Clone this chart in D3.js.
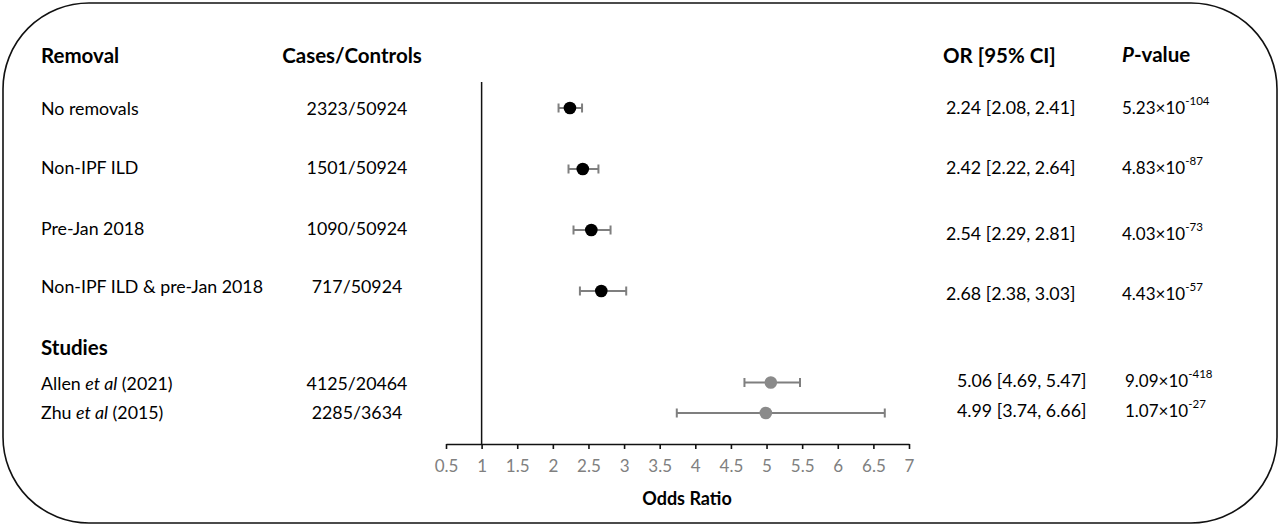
<!DOCTYPE html>
<html>
<head>
<meta charset="utf-8">
<script src="https://cdn.jsdelivr.net/npm/d3@7"></script>
<style>
  body { margin: 0; background: #fff; }
  svg { display: block; font-family: Lato, "Open Sans", sans-serif; }
</style>
</head>
<body>
<script>
// forest plot: odds ratios by removal criterion + previous studies

var labels = ['No removals', 'Non-IPF ILD', 'Pre-Jan 2018', 'Non-IPF ILD & pre-Jan 2018',
              'Allen et al (2021)', 'Zhu et al (2015)'];
var cases = ['2323/50924', '1501/50924', '1090/50924', '717/50924', '4125/20464', '2285/3634'];
var oddsRatio = [2.24, 2.42, 2.54, 2.68, 5.06, 4.99];
var ciLow = [2.08, 2.22, 2.29, 2.38, 4.69, 3.74];
var ciHigh = [2.41, 2.64, 2.81, 3.03, 5.47, 6.66];
var pMantissa = ['5.23', '4.83', '4.03', '4.43', '9.09', '1.07'];
var pExponent = ['-104', '-87', '-73', '-57', '-418', '-27'];
var group = ['removal', 'removal', 'removal', 'removal', 'study', 'study'];
var xTicks = [0.5, 1, 1.5, 2, 2.5, 3, 3.5, 4, 4.5, 5, 5.5, 6, 6.5, 7];

// layout
var W = 1280, H = 527;
var rowSlot = [0, 1, 2, 3, 4.5, 5];   // studies sit after a gap
var leftNudge = [0, -2, -2, -5, 0, -1];   // text in the original isn't quite aligned with the points
var rightNudge = [-1, -2, 3, 2, -3, -3];
var axisY = 444;
var bodySize = '17.8px', headSize = '20.5px';

var svg = d3.select('body').append('svg')
    .attr('width', W)
    .attr('height', H);

// rounded frame
svg.append('rect')
    .attr('x', 3).attr('y', 3)
    .attr('width', W - 6).attr('height', H - 7)
    .attr('rx', 86).attr('ry', 86)
    .style('fill', 'none')
    .style('stroke', '#111')
    .style('stroke-width', 1.6);

var x = d3.scaleLinear().domain([0.5, 7]).range([446, 909]);
var y = d3.scaleLinear().domain([0, 5]).range([108, 413]);

var rows = labels.map(function(d, i) {
  return {label: d, cases: cases[i], or: oddsRatio[i], lo: ciLow[i], hi: ciHigh[i],
          pm: pMantissa[i], pe: pExponent[i], group: group[i], slot: rowSlot[i],
          ln: leftNudge[i], rn: rightNudge[i]};
});

// column headers
var headers = [
  {t: 'Removal', x: 41, anchor: 'start'},
  {t: 'Cases/Controls', x: 352, anchor: 'middle'},
  {t: 'OR [95% CI]', x: 943, anchor: 'start'}
];
svg.selectAll('.hdr').data(headers).enter().append('text')
    .attr('class', 'hdr')
    .attr('x', function(d) { return d.x; })
    .attr('y', 55)
    .attr('text-anchor', function(d) { return d.anchor; })
    .attr('dominant-baseline', 'central')
    .style('font-weight', 'bold')
    .style('font-size', headSize)
    .text(function(d) { return d.t; });

var pHead = svg.append('text')
    .attr('x', 1122).attr('y', 54)
    .attr('dominant-baseline', 'central')
    .style('font-weight', 'bold')
    .style('font-size', headSize);
pHead.append('tspan').style('font-style', 'italic').text('P');
pHead.append('tspan').text('-value');

svg.append('text')
    .attr('x', 41).attr('y', y(3.92))
    .attr('dominant-baseline', 'central')
    .style('font-weight', 'bold')
    .style('font-size', headSize)
    .text('Studies');

// row labels (italic "et al")
var lab = svg.selectAll('.lab').data(rows).enter().append('text')
    .attr('class', 'lab')
    .attr('x', 41)
    .attr('y', function(d) { return y(d.slot) + d.ln; })
    .attr('dominant-baseline', 'central')
    .style('font-size', bodySize);
lab.each(function(d) {
  var t = d3.select(this);
  var parts = d.label.split(' et al ');
  if (parts.length == 2) {
    t.append('tspan').text(parts[0] + ' ');
    t.append('tspan').style('font-style', 'italic').text('et al');
    t.append('tspan').text(' ' + parts[1]);
  } else {
    t.text(d.label);
  }
});

svg.selectAll('.cases').data(rows).enter().append('text')
    .attr('class', 'cases')
    .attr('x', 357)
    .attr('y', function(d) { return y(d.slot) + d.ln; })
    .attr('text-anchor', 'middle')
    .attr('dominant-baseline', 'central')
    .style('font-size', bodySize)
    .text(function(d) { return d.cases; });

// OR [CI] column
svg.selectAll('.ortxt').data(rows).enter().append('text')
    .attr('class', 'ortxt')
    .attr('x', function(d) { return d.group == 'study' ? 957 : 946; })
    .attr('y', function(d) { return y(d.slot) + d.rn; })
    .attr('dominant-baseline', 'central')
    .style('font-size', bodySize)
    .text(function(d) {
      return d.or.toFixed(2) + ' [' + d.lo.toFixed(2) + ', ' + d.hi.toFixed(2) + ']';
    });

// p-values with superscript exponent
var pt = svg.selectAll('.ptxt').data(rows).enter().append('text')
    .attr('class', 'ptxt')
    .attr('x', function(d) { return d.group == 'study' ? 1125 : 1122; })
    .attr('y', function(d) { return y(d.slot) + d.rn; })
    .attr('dominant-baseline', 'central')
    .style('font-size', '17px');
pt.append('tspan').text(function(d) { return d.pm + '\u00d710'; });
pt.append('tspan')
    .attr('dy', -7)
    .style('font-size', '11.5px')
    .text(function(d) { return d.pe; });

// reference line at OR = 1
svg.append('line')
    .attr('x1', x(1)).attr('x2', x(1))
    .attr('y1', 82).attr('y2', axisY)
    .style('stroke', '#111')
    .style('stroke-width', 1.5);

// x axis
var axis = svg.append('g')
    .attr('transform', 'translate(0,' + axisY + ')')
    .call(d3.axisBottom(x).tickValues(xTicks).tickSize(5).tickSizeOuter(0)
          .tickFormat(function(d) { return d; }));
axis.select('.domain').style('stroke', '#111').style('stroke-width', 1.6);
axis.selectAll('.tick line').style('stroke', '#111').style('stroke-width', 1.6);
axis.selectAll('.tick text')
    .attr('y', 16)
    .style('fill', '#808080')
    .style('font-family', 'Lato, sans-serif')
    .style('font-size', '17px');

svg.append('text')
    .attr('x', 687).attr('y', 498)
    .attr('text-anchor', 'middle')
    .attr('dominant-baseline', 'central')
    .style('font-weight', 'bold')
    .style('font-size', '18px')
    .text('Odds Ratio');

// error bars
var bars = svg.selectAll('.ci').data(rows).enter().append('g').attr('class', 'ci');
bars.append('line')
    .attr('x1', function(d) { return x(d.lo); })
    .attr('x2', function(d) { return x(d.hi); })
    .attr('y1', function(d) { return y(d.slot); })
    .attr('y2', function(d) { return y(d.slot); });
bars.append('line')
    .attr('x1', function(d) { return x(d.lo); })
    .attr('x2', function(d) { return x(d.lo); })
    .attr('y1', function(d) { return y(d.slot) - 4.5; })
    .attr('y2', function(d) { return y(d.slot) + 4.5; });
bars.append('line')
    .attr('x1', function(d) { return x(d.hi); })
    .attr('x2', function(d) { return x(d.hi); })
    .attr('y1', function(d) { return y(d.slot) - 4.5; })
    .attr('y2', function(d) { return y(d.slot) + 4.5; });
bars.selectAll('line')
    .style('stroke', '#7f7f7f')
    .style('stroke-width', 2);

// points
svg.selectAll('.pt').data(rows).enter().append('circle')
    .attr('class', 'pt')
    .attr('cx', function(d) { return x(d.or); })
    .attr('cy', function(d) { return y(d.slot); })
    .attr('r', 6.3)
    .style('fill', function(d) { return d.group == 'study' ? '#8a8a8a' : '#000'; });
</script>
</body>
</html>
